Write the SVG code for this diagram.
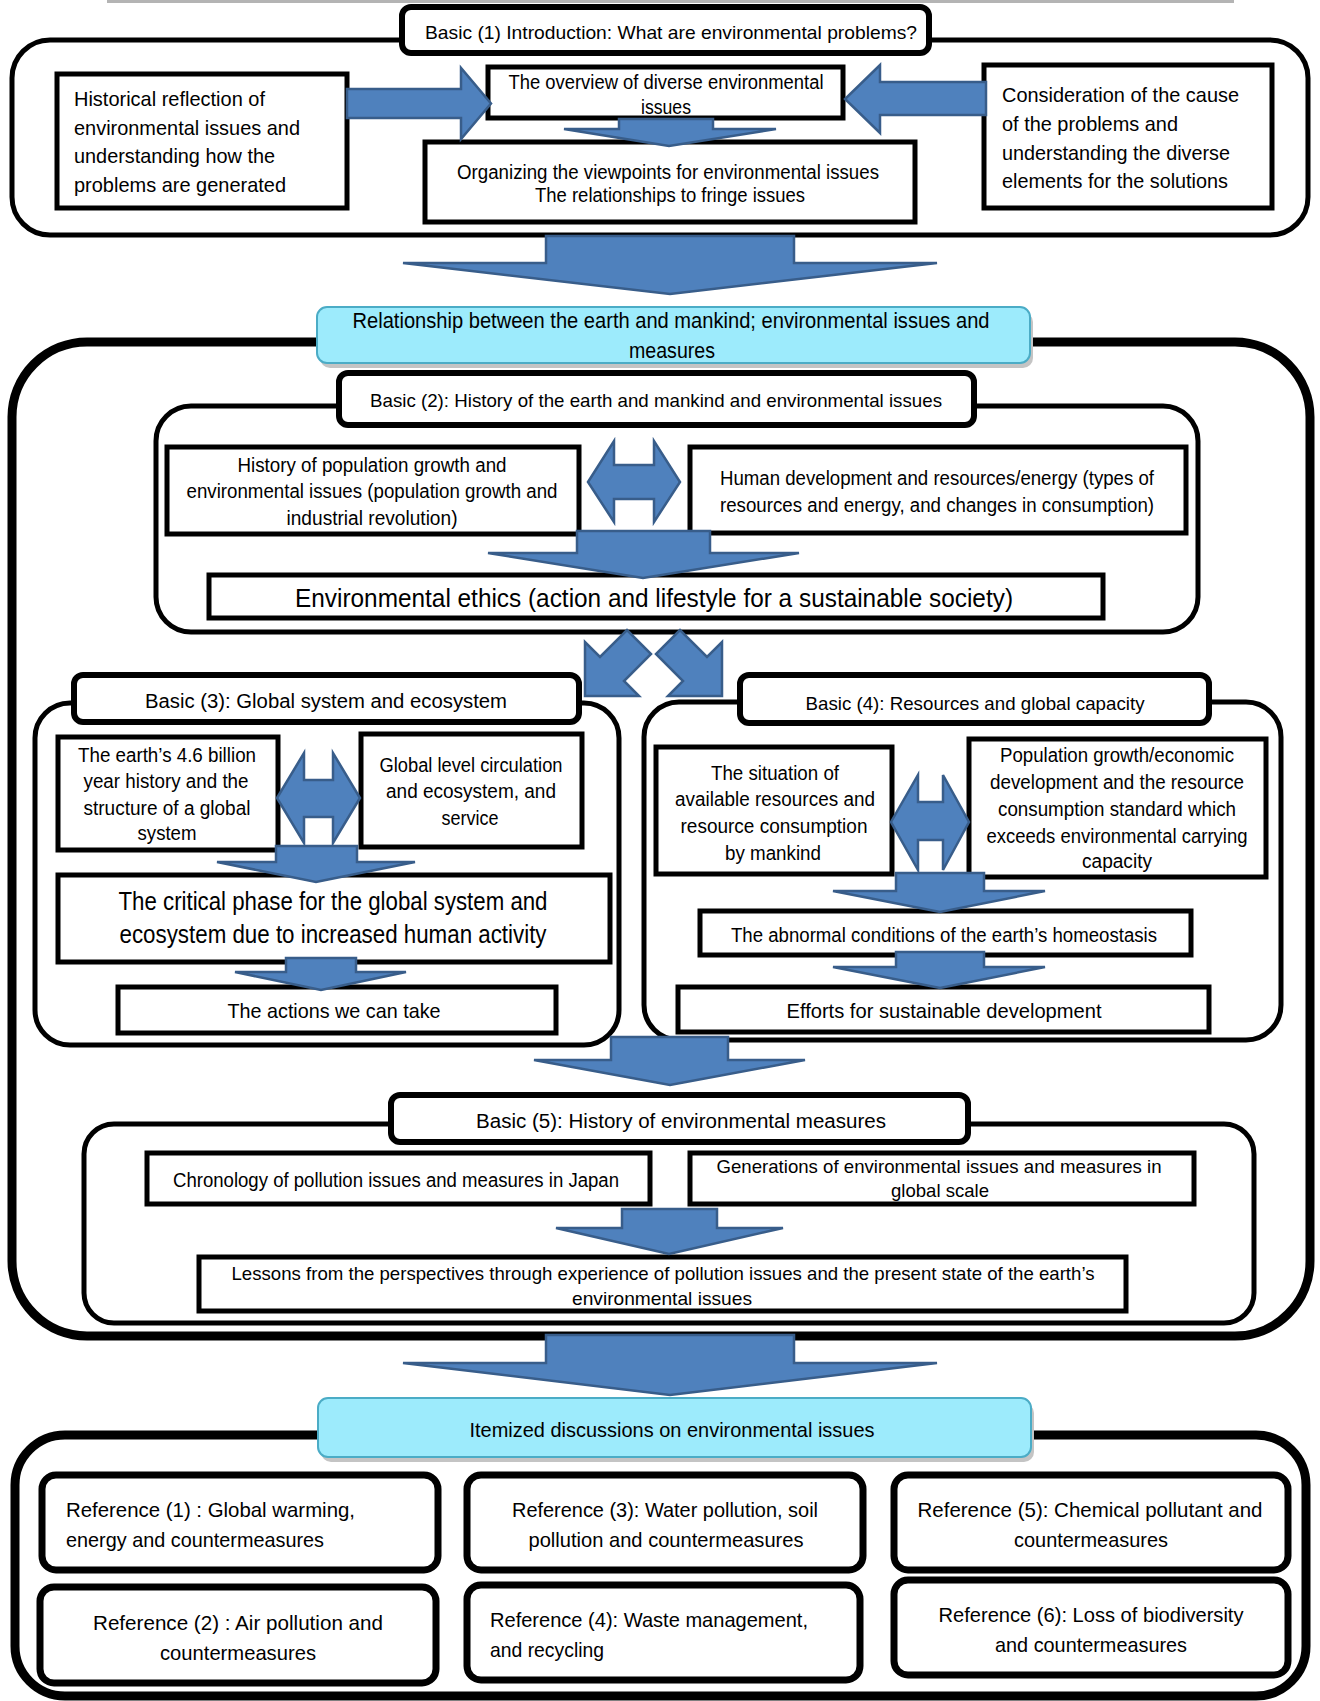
<svg xmlns="http://www.w3.org/2000/svg" width="1320" height="1701" viewBox="0 0 1320 1701">
<style>
text{font-family:"Liberation Sans Narrow","Liberation Sans",Arial,sans-serif;fill:#000}
.c{text-anchor:middle}
.box{fill:#fff;stroke:#000;stroke-width:5}
.ttl{fill:#fff;stroke:#000;stroke-width:6}
.cont{fill:#fff;stroke:#000;stroke-width:5}
.outer{fill:#fff;stroke:#000;stroke-width:9}
.ref{fill:#fff;stroke:#000;stroke-width:7}
.cyan{fill:#9DEBFC;stroke:#4BACC6;stroke-width:2}
.shadow{fill:#c4c4c4}
.arrow{fill:#4F81BD;stroke:#385D8A;stroke-width:2.5}
.f19{font-size:19px}.f20{font-size:20px}.f21{font-size:21px}.f22{font-size:22px}.f25{font-size:25px}.f26{font-size:26px}
</style>
<rect width="1320" height="1701" fill="#fff"/>
<rect x="107" y="0" width="1127" height="3" fill="#b4b4b4"/>

<!-- Section 1 -->
<g id="section1">
  <rect class="cont" x="12" y="40" width="1296" height="195" rx="38"/>
</g>
<g id="basic1-title">
  <rect class="ttl" x="402" y="7" width="527" height="46" rx="9"/>
  <text class="c f19" x="671" y="39" textLength="492" lengthAdjust="spacingAndGlyphs">Basic (1) Introduction: What are environmental problems?</text>
</g>
<g id="historical">
  <rect class="box" x="57" y="74" width="290" height="134"/>
  <text class="f21" x="74" y="106" textLength="191" lengthAdjust="spacingAndGlyphs">Historical reflection of</text>
  <text class="f21" x="74" y="134.5" textLength="226" lengthAdjust="spacingAndGlyphs">environmental issues and</text>
  <text class="f21" x="74" y="163" textLength="201" lengthAdjust="spacingAndGlyphs">understanding how the</text>
  <text class="f21" x="74" y="191.5" textLength="212" lengthAdjust="spacingAndGlyphs">problems are generated</text>
</g>
<g id="overview">
  <rect class="box" x="488" y="67" width="355" height="51"/>
  <text class="c f20" x="666" y="89" textLength="315" lengthAdjust="spacingAndGlyphs">The overview of diverse environmental</text>
  <text class="c f20" x="666" y="114" textLength="50" lengthAdjust="spacingAndGlyphs">issues</text>
</g>
<g id="organizing">
  <rect class="box" x="425" y="142" width="490" height="80"/>
  <text class="c f20" x="668" y="179" textLength="422" lengthAdjust="spacingAndGlyphs">Organizing the viewpoints for environmental issues</text>
  <text class="c f20" x="670" y="202" textLength="270" lengthAdjust="spacingAndGlyphs">The relationships to fringe issues</text>
</g>
<g id="consideration">
  <rect class="box" x="984" y="65" width="288" height="143"/>
  <text class="f21" x="1002" y="102" textLength="237" lengthAdjust="spacingAndGlyphs">Consideration of the cause</text>
  <text class="f21" x="1002" y="131" textLength="176" lengthAdjust="spacingAndGlyphs">of the problems and</text>
  <text class="f21" x="1002" y="160" textLength="228" lengthAdjust="spacingAndGlyphs">understanding the diverse</text>
  <text class="f21" x="1002" y="188" textLength="226" lengthAdjust="spacingAndGlyphs">elements for the solutions</text>
</g>

<!-- Section 2 -->
<g id="section2">
  <rect class="outer" x="12" y="342" width="1298" height="994" rx="75"/>
</g>
<g id="relationship-title">
  <rect class="shadow" x="320" y="312" width="713" height="56" rx="10"/>
  <rect class="cyan" x="317" y="307" width="713" height="56" rx="10"/>
  <text class="c f22" x="671" y="328" textLength="637" lengthAdjust="spacingAndGlyphs">Relationship between the earth and mankind; environmental issues and</text>
  <text class="c f22" x="672" y="358" textLength="86" lengthAdjust="spacingAndGlyphs">measures</text>
</g>
<g id="basic2">
  <rect class="cont" x="156" y="406" width="1042" height="226" rx="35"/>
</g>
<g id="basic2-title">
  <rect class="ttl" x="339" y="373" width="635" height="52" rx="9"/>
  <text class="c f19" x="656" y="407" textLength="572" lengthAdjust="spacingAndGlyphs">Basic (2): History of the earth and mankind and environmental issues</text>
</g>
<g id="population-history">
  <rect class="box" x="167" y="447" width="412" height="87"/>
  <text class="c f20" x="372" y="472" textLength="269" lengthAdjust="spacingAndGlyphs">History of population growth and</text>
  <text class="c f20" x="372" y="498" textLength="371" lengthAdjust="spacingAndGlyphs">environmental issues (population growth and</text>
  <text class="c f20" x="372" y="525" textLength="171" lengthAdjust="spacingAndGlyphs">industrial revolution)</text>
</g>
<g id="human-development">
  <rect class="box" x="690" y="447" width="496" height="86"/>
  <text class="c f20" x="937" y="485" textLength="434" lengthAdjust="spacingAndGlyphs">Human development and resources/energy (types of</text>
  <text class="c f20" x="937" y="512" textLength="434" lengthAdjust="spacingAndGlyphs">resources and energy, and changes in consumption)</text>
</g>
<g id="ethics">
  <rect class="box" x="209" y="575" width="894" height="43"/>
  <text class="c f26" x="654" y="607" textLength="718" lengthAdjust="spacingAndGlyphs">Environmental ethics (action and lifestyle for a sustainable society)</text>
</g>

<!-- Basic 3 -->
<g id="basic3">
  <rect class="cont" x="35" y="703" width="584" height="342" rx="35"/>
</g>
<g id="basic3-title">
  <rect class="ttl" x="74" y="675" width="505" height="47" rx="9"/>
  <text class="c f20" x="326" y="708" textLength="362" lengthAdjust="spacingAndGlyphs">Basic (3): Global system and ecosystem</text>
</g>
<g id="earth-history">
  <rect class="box" x="58" y="737" width="220" height="113"/>
  <text class="c f20" x="167" y="762" textLength="178" lengthAdjust="spacingAndGlyphs">The earth’s 4.6 billion</text>
  <text class="c f20" x="166" y="788" textLength="165" lengthAdjust="spacingAndGlyphs">year history and the</text>
  <text class="c f20" x="167" y="815" textLength="167" lengthAdjust="spacingAndGlyphs">structure of a global</text>
  <text class="c f20" x="167" y="840" textLength="59" lengthAdjust="spacingAndGlyphs">system</text>
</g>
<g id="global-circulation">
  <rect class="box" x="361" y="734" width="221" height="113"/>
  <text class="c f20" x="471" y="772" textLength="183" lengthAdjust="spacingAndGlyphs">Global level circulation</text>
  <text class="c f20" x="471" y="798" textLength="170" lengthAdjust="spacingAndGlyphs">and ecosystem, and</text>
  <text class="c f20" x="470" y="825" textLength="57" lengthAdjust="spacingAndGlyphs">service</text>
</g>
<g id="critical-phase">
  <rect class="box" x="58" y="875" width="552" height="87"/>
  <text class="c f25" x="333" y="910" textLength="429" lengthAdjust="spacingAndGlyphs">The critical phase for the global system and</text>
  <text class="c f25" x="333" y="943" textLength="427" lengthAdjust="spacingAndGlyphs">ecosystem due to increased human activity</text>
</g>
<g id="actions">
  <rect class="box" x="118" y="987" width="438" height="46"/>
  <text class="c f21" x="334" y="1018" textLength="213" lengthAdjust="spacingAndGlyphs">The actions we can take</text>
</g>

<!-- Basic 4 -->
<g id="basic4">
  <rect class="cont" x="644" y="702" width="637" height="338" rx="35"/>
</g>
<g id="basic4-title">
  <rect class="ttl" x="740" y="675" width="469" height="48" rx="9"/>
  <text class="c f19" x="975" y="710" textLength="339" lengthAdjust="spacingAndGlyphs">Basic (4): Resources and global capacity</text>
</g>
<g id="available-resources">
  <rect class="box" x="656" y="747" width="236" height="127"/>
  <text class="c f20" x="775" y="780" textLength="128" lengthAdjust="spacingAndGlyphs">The situation of</text>
  <text class="c f20" x="775" y="806" textLength="200" lengthAdjust="spacingAndGlyphs">available resources and</text>
  <text class="c f20" x="774" y="833" textLength="187" lengthAdjust="spacingAndGlyphs">resource consumption</text>
  <text class="c f20" x="773" y="860" textLength="96" lengthAdjust="spacingAndGlyphs">by mankind</text>
</g>
<g id="population-growth">
  <rect class="box" x="969" y="739" width="297" height="138"/>
  <text class="c f20" x="1117" y="762" textLength="234" lengthAdjust="spacingAndGlyphs">Population growth/economic</text>
  <text class="c f20" x="1117" y="789" textLength="254" lengthAdjust="spacingAndGlyphs">development and the resource</text>
  <text class="c f20" x="1117" y="816" textLength="238" lengthAdjust="spacingAndGlyphs">consumption standard which</text>
  <text class="c f20" x="1117" y="843" textLength="261" lengthAdjust="spacingAndGlyphs">exceeds environmental carrying</text>
  <text class="c f20" x="1117" y="868" textLength="70" lengthAdjust="spacingAndGlyphs">capacity</text>
</g>
<g id="abnormal">
  <rect class="box" x="700" y="911" width="491" height="44"/>
  <text class="c f20" x="944" y="942" textLength="426" lengthAdjust="spacingAndGlyphs">The abnormal conditions of the earth’s homeostasis</text>
</g>
<g id="efforts">
  <rect class="box" x="678" y="987" width="531" height="45"/>
  <text class="c f21" x="944" y="1018" textLength="315" lengthAdjust="spacingAndGlyphs">Efforts for sustainable development</text>
</g>

<!-- Basic 5 -->
<g id="basic5">
  <rect class="cont" x="84" y="1124" width="1170" height="199" rx="30"/>
</g>
<g id="basic5-title">
  <rect class="ttl" x="391" y="1095" width="577" height="47" rx="9"/>
  <text class="c f20" x="681" y="1128" textLength="410" lengthAdjust="spacingAndGlyphs">Basic (5): History of environmental measures</text>
</g>
<g id="chronology">
  <rect class="box" x="147" y="1153" width="503" height="51"/>
  <text class="c f20" x="396" y="1187" textLength="446" lengthAdjust="spacingAndGlyphs">Chronology of pollution issues and measures in Japan</text>
</g>
<g id="generations">
  <rect class="box" x="690" y="1153" width="504" height="51"/>
  <text class="c f19" x="939" y="1173" textLength="445" lengthAdjust="spacingAndGlyphs">Generations of environmental issues and measures in</text>
  <text class="c f19" x="940" y="1197" textLength="98" lengthAdjust="spacingAndGlyphs">global scale</text>
</g>
<g id="lessons">
  <rect class="box" x="199" y="1257" width="927" height="54"/>
  <text class="c f19" x="663" y="1280" textLength="863" lengthAdjust="spacingAndGlyphs">Lessons from the perspectives through experience of pollution issues and the present state of the earth’s</text>
  <text class="c f19" x="662" y="1305" textLength="180" lengthAdjust="spacingAndGlyphs">environmental issues</text>
</g>

<!-- Section 6 -->
<g id="section6">
  <rect class="outer" x="15" y="1435" width="1291" height="261" rx="50"/>
</g>
<g id="itemized-title">
  <rect class="shadow" x="321" y="1403" width="713" height="59" rx="10"/>
  <rect class="cyan" x="318" y="1398" width="713" height="59" rx="10"/>
  <text class="c f21" x="672" y="1437" textLength="405" lengthAdjust="spacingAndGlyphs">Itemized discussions on environmental issues</text>
</g>
<g id="reference1">
  <rect class="ref" x="42" y="1475" width="396" height="95" rx="14"/>
  <text class="f21" x="66" y="1517" textLength="289" lengthAdjust="spacingAndGlyphs">Reference (1) : Global warming,</text>
  <text class="f21" x="66" y="1547" textLength="258" lengthAdjust="spacingAndGlyphs">energy and countermeasures</text>
</g>
<g id="reference3">
  <rect class="ref" x="467" y="1475" width="396" height="95" rx="14"/>
  <text class="c f21" x="665" y="1517" textLength="306" lengthAdjust="spacingAndGlyphs">Reference (3): Water pollution, soil</text>
  <text class="c f21" x="666" y="1547" textLength="275" lengthAdjust="spacingAndGlyphs">pollution and countermeasures</text>
</g>
<g id="reference5">
  <rect class="ref" x="894" y="1475" width="394" height="95" rx="14"/>
  <text class="c f21" x="1090" y="1517" textLength="345" lengthAdjust="spacingAndGlyphs">Reference (5): Chemical pollutant and</text>
  <text class="c f21" x="1091" y="1547" textLength="154" lengthAdjust="spacingAndGlyphs">countermeasures</text>
</g>
<g id="reference2">
  <rect class="ref" x="40" y="1587" width="396" height="96" rx="14"/>
  <text class="c f21" x="238" y="1630" textLength="290" lengthAdjust="spacingAndGlyphs">Reference (2) : Air pollution and</text>
  <text class="c f21" x="238" y="1660" textLength="156" lengthAdjust="spacingAndGlyphs">countermeasures</text>
</g>
<g id="reference4">
  <rect class="ref" x="467" y="1585" width="393" height="95" rx="14"/>
  <text class="f21" x="490" y="1627" textLength="318" lengthAdjust="spacingAndGlyphs">Reference (4): Waste management,</text>
  <text class="f21" x="490" y="1657" textLength="114" lengthAdjust="spacingAndGlyphs">and recycling</text>
</g>
<g id="reference6">
  <rect class="ref" x="894" y="1580" width="394" height="95" rx="14"/>
  <text class="c f21" x="1091" y="1622" textLength="305" lengthAdjust="spacingAndGlyphs">Reference (6): Loss of biodiversity</text>
  <text class="c f21" x="1091" y="1652" textLength="192" lengthAdjust="spacingAndGlyphs">and countermeasures</text>
</g>

<!-- Connectors -->
<g id="connectors">
  <polygon class="arrow" points="347,89 461,89 461,68 491,103.5 461,139 461,118 347,118"/>
  <polygon class="arrow" points="986,82 880,82 880,65 845,99 880,133 880,115 986,115"/>
  <polygon class="arrow" points="619,119 713,119 713,129 776,129 669,146 564,129 619,129"/>
  <polygon class="arrow" points="546,236 794,236 794,263 937,263 670,294 403,263 546,263"/>
  <polygon class="arrow" points="588,482 614,441 614,465 654,465 654,441 680,482 654,522 654,499 614,499 614,522"/>
  <polygon class="arrow" points="577,531 710,531 710,553 799,553 643,578 488,553 577,553"/>
  <polygon class="arrow" points="585,696 585,642 600,657 627,630 651,654 624,681 639,696"/>
  <polygon class="arrow" points="722,696 722,642 707,657 680,630 656,654 683,681 668,696"/>
  <polygon class="arrow" points="277,798 304,753 304,780 333,780 333,753 360,798 333,843 333,817 304,817 304,843"/>
  <polygon class="arrow" points="276,846 357,846 357,862 415,862 316,882 217,862 276,862"/>
  <polygon class="arrow" points="286,958 356,958 356,972 406,972 321,990 235,972 286,972"/>
  <polygon class="arrow" points="891,822 918,775 918,802 943,802 943,775 969,822 943,870 943,840 918,840 918,870"/>
  <polygon class="arrow" points="896,873 984,873 984,891 1045,891 940,912 833,891 896,891"/>
  <polygon class="arrow" points="896,952 984,952 984,967 1045,967 940,988 833,967 896,967"/>
  <polygon class="arrow" points="611,1037 728,1037 728,1060 805,1060 670,1085 534,1060 611,1060"/>
  <polygon class="arrow" points="622,1209 717,1209 717,1228 783,1228 669,1254 556,1228 622,1228"/>
  <polygon class="arrow" points="546,1335 794,1335 794,1363 937,1363 670,1395 403,1363 546,1363"/>
</g>
</svg>
